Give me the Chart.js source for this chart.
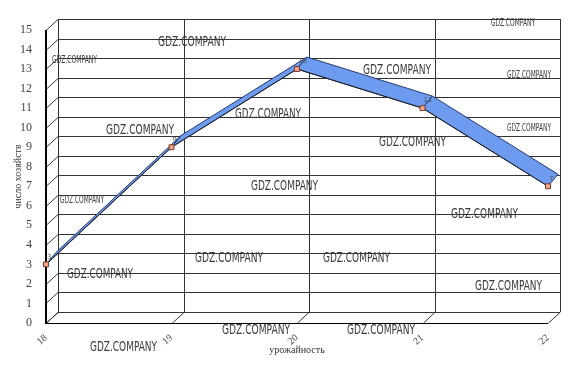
<!DOCTYPE html>
<html>
<head>
<meta charset="utf-8">
<script src="https://cdn.jsdelivr.net/npm/chart.js@4"></script>
<style>
    html, body { margin: 0; padding: 0; background: #fff; }
    #wrap { width: 574px; height: 370px; }
</style>
</head>
<body>
<div id="wrap"><canvas id="chart-line"></canvas></div>
<script>
const categories = ['18', '19', '20', '21', '22']
const values = [3, 9, 13, 11, 7]
const yTicks = [0, 1, 2, 3, 4, 5, 6, 7, 8, 9, 10, 11, 12, 13, 14, 15]

// watermark text scattered over the picture [text, left, centerY, width, size]
const marks = [
    ['GDZ.COMPANY', 158, 42, 68, 14], ['GDZ.COMPANY', 52, 60, 45, 10],
    ['GDZ.COMPANY', 491, 23, 44, 10], ['GDZ.COMPANY', 507, 75, 44, 10],
    ['GDZ.COMPANY', 363, 70, 68, 14], ['GDZ.COMPANY', 106, 130, 68, 14],
    ['GDZ.COMPANY', 235, 114, 66, 14], ['GDZ.COMPANY', 507, 128, 44, 10],
    ['GDZ.COMPANY', 379, 142, 67, 14], ['GDZ.COMPANY', 251, 186, 67, 14],
    ['GDZ.COMPANY', 60, 200, 44, 10], ['GDZ.COMPANY', 451, 214, 67, 14],
    ['GDZ.COMPANY', 195, 258, 68, 14], ['GDZ.COMPANY', 323, 258, 67, 14],
    ['GDZ.COMPANY', 67, 274, 66, 14], ['GDZ.COMPANY', 475, 286, 67, 14],
    ['GDZ.COMPANY', 222, 330, 68, 14], ['GDZ.COMPANY', 347, 330, 68, 14],
    ['GDZ.COMPANY', 90, 347, 67, 14]
]

// depth of the box walls and of the ribbon
const DX = 12
const DY = -11
const RDX = 10
const RDY = -12

const box3d = {
    id: 'box3d',
    beforeDatasetsDraw(chart) {
        const ctx = chart.ctx
        const a = chart.chartArea
        const x = chart.scales.x
        const y = chart.scales.y
        ctx.save()
        ctx.lineWidth = 1
        ctx.strokeStyle = '#333'
        ctx.beginPath()
        // back wall horizontal lines + left wall diagonals
        yTicks.forEach(v => {
            const py = Math.round(y.getPixelForValue(v)) + 0.5
            ctx.moveTo(a.left + DX, py + DY)
            ctx.lineTo(a.right + DX, py + DY)
            ctx.moveTo(a.left, py)
            ctx.lineTo(a.left + DX, py + DY)
        })
        // back wall vertical lines + floor diagonals
        categories.forEach((c, i) => {
            const px = Math.round(x.getPixelForValue(i)) + 0.5
            ctx.moveTo(px + DX, a.top + DY)
            ctx.lineTo(px + DX, a.bottom + DY)
            ctx.moveTo(px, a.bottom)
            ctx.lineTo(px + DX, a.bottom + DY)
        })
        ctx.stroke()

        // front axes
        ctx.strokeStyle = '#000'
        ctx.beginPath()
        ctx.moveTo(a.left, a.bottom + 0.5)
        ctx.lineTo(a.right, a.bottom + 0.5)
        ctx.stroke()
        ctx.lineWidth = 2
        ctx.beginPath()
        ctx.moveTo(a.left, a.top)
        ctx.lineTo(a.left, a.bottom + 1)
        ctx.stroke()

        // ribbon between front line and back line
        const pts = chart.getDatasetMeta(0).data
        ctx.lineWidth = 1
        ctx.fillStyle = '#6c9bf0'
        ctx.strokeStyle = '#26386e'
        for (let i = 0; i < pts.length - 1; i++) {
            const p = pts[i]
            const q = pts[i + 1]
            ctx.beginPath()
            ctx.moveTo(p.x, p.y)
            ctx.lineTo(q.x, q.y)
            ctx.lineTo(q.x + RDX, q.y + RDY)
            ctx.lineTo(p.x + RDX, p.y + RDY)
            ctx.closePath()
            ctx.fill()
            ctx.stroke()
        }
        ctx.restore()
    },
    afterDatasetsDraw(chart) {
        const ctx = chart.ctx
        const pts = chart.getDatasetMeta(0).data
        ctx.save()
        ctx.fillStyle = '#555'
        ctx.font = '7px "DejaVu Sans"'
        ctx.textAlign = 'left'
        ctx.textBaseline = 'bottom'
        pts.forEach((p, i) => {
            ctx.fillText(String(values[i]), p.x + 1, p.y - 4)
        })
        ctx.restore()
    },
    afterDraw(chart) {
        const ctx = chart.ctx
        ctx.save()
        ctx.fillStyle = '#3c3c3c'
        ctx.textBaseline = 'middle'
        marks.forEach(m => {
            ctx.font = m[4] + 'px "Liberation Sans Narrow", "DejaVu Sans Condensed", sans-serif'
            const w = ctx.measureText(m[0]).width
            ctx.save()
            ctx.translate(m[1], m[2])
            ctx.scale(m[3] / w, 1)
            ctx.fillText(m[0], 0, 0)
            ctx.restore()
        })
        ctx.restore()
    }
}

let line = document.getElementById('chart-line')

new Chart(line, {
    type: 'line',
    data: {
        labels: categories,
        datasets: [
            {
                label: 'число хозяйств',
                data: values,
                borderColor: '#222',
                borderWidth: 1,
                pointStyle: 'rect',
                pointRadius: 3.5,
                pointBackgroundColor: '#f2a488',
                pointBorderColor: '#7a3b2c',
                pointBorderWidth: 1,
                tension: 0
            }
        ]
    },
    options: {
        responsive: true,
        maintainAspectRatio: false,
        animation: false,
        layout: {
            padding: { top: 30, right: 26, bottom: 0, left: 0 }
        },
        scales: {
            x: {
                offset: false,
                afterFit: s => { s.height = 47 },
                ticks: {
                    color: '#444',
                    font: { family: 'Liberation Serif', size: 10 },
                    minRotation: 40,
                    maxRotation: 40,
                    padding: 1
                },
                border: { display: false },
                grid: { display: false },
                title: {
                    display: true,
                    text: 'урожайность',
                    color: '#333',
                    font: { family: 'Liberation Serif', size: 10 },
                    padding: { top: 0, bottom: 14 }
                }
            },
            y: {
                min: 0,
                max: 15,
                afterFit: s => { s.width = 46 },
                afterBuildTicks: s => { s.ticks = yTicks.map(v => ({ value: v })) },
                ticks: {
                    color: '#444',
                    font: { family: 'Liberation Serif', size: 12 },
                    padding: 6
                },
                border: { display: false },
                grid: { display: false },
                title: {
                    display: true,
                    text: 'число хозяйств',
                    color: '#333',
                    font: { family: 'Liberation Serif', size: 10 },
                    padding: { top: 12, bottom: 0 }
                }
            }
        },
        plugins: {
            legend: { display: false },
            tooltip: { enabled: false }
        }
    },
    plugins: [box3d]
})
</script>
</body>
</html>
